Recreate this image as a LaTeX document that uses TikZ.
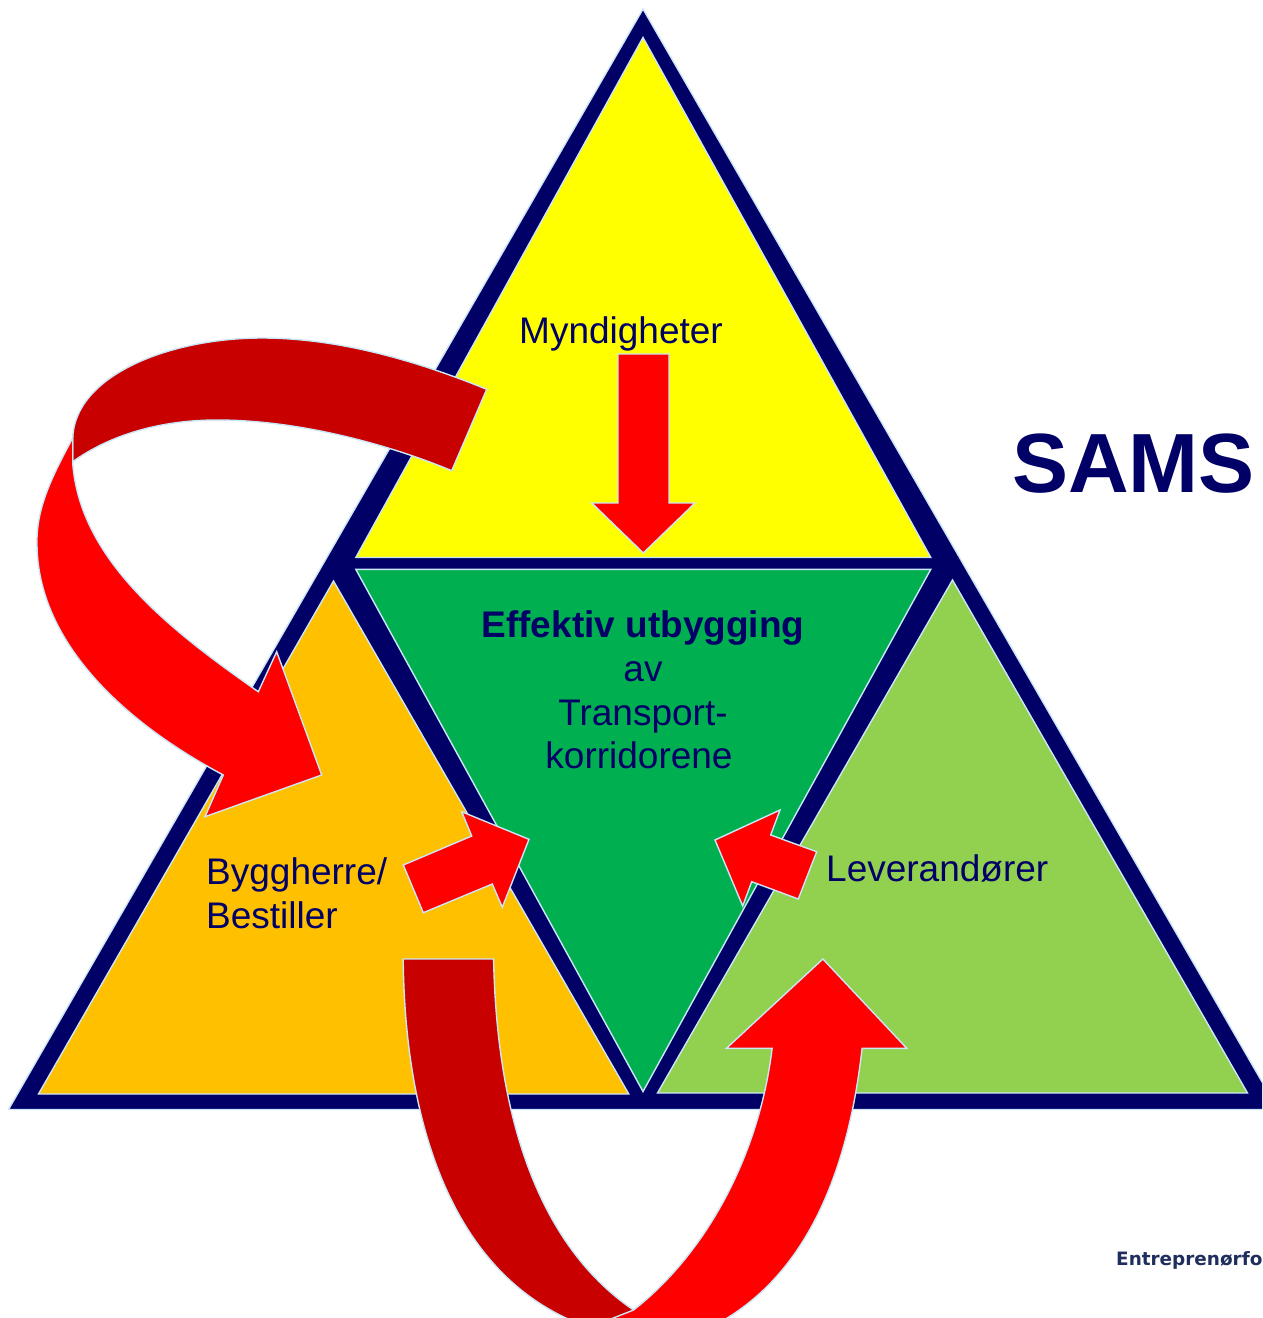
\documentclass[tikz,border=0pt]{standalone}
\usepackage{fontspec}
\setmainfont{Liberation Sans}
\newfontfamily\logofont{DejaVu Sans}
\definecolor{navy}{HTML}{000066}
\definecolor{outl}{HTML}{CBE6F7}
\definecolor{yel}{HTML}{FFFF00}
\definecolor{grn}{HTML}{00B050}
\definecolor{org}{HTML}{FFC000}
\definecolor{lgrn}{HTML}{92D050}
\definecolor{red1}{HTML}{FF0000}
\definecolor{red2}{HTML}{C80000}
\definecolor{logoc}{HTML}{1F2E5C}
\tikzset{
  shp/.style={draw=outl, line width=1.4pt, line join=miter},
  lbl/.style={text=navy, inner sep=0pt, font=\fontsize{37}{44.5}\selectfont},
}
\begin{document}
\begin{tikzpicture}[x=1pt,y=-1pt]
\useasboundingbox (0,0) rectangle (1262,1318);
\clip (0,0) rectangle (1262,1318);
% outer triangle
\fill[shp, fill=navy] (643,9) -- (8.5,1109.5) -- (1278,1109.5) -- cycle;
% inner triangles
\fill[shp, fill=yel] (643,37.5) -- (355.8,557.5) -- (930.8,557.5) -- cycle;
\fill[shp, fill=grn] (355.8,569.3) -- (930.8,569.3) -- (643,1091.5) -- cycle;
\fill[shp, fill=org] (333.5,581) -- (38.5,1094) -- (628.8,1094) -- cycle;
\fill[shp, fill=lgrn] (952.5,580) -- (657.5,1093) -- (1247.5,1093) -- cycle;
% down arrow
\fill[shp, fill=red1] (618,354) -- (669,354) -- (669,503) -- (695,503) -- (643.3,553) -- (591.7,503) -- (618,503) -- cycle;
% small arrows
\fill[shp, fill=red1] (423.3,912.7) -- (403.3,865) -- (471.7,836) -- (461.7,811.7) -- (529,839.3) -- (502.3,907.3) -- (492.3,884) -- cycle;
\fill[shp, fill=red1] (715,840) -- (780,810) -- (770.7,835) -- (816.7,851.7) -- (798.3,899) -- (751.7,881.7) -- (742.7,906) -- cycle;
% big left curved arrow: dark part
\fill[shp, fill=red2] (486.7,389.3) .. controls (420,362) and (340,338) .. (262,338)
  .. controls (170,338) and (75,375) .. (72.7,438)
  -- (72.7,461.7)
  .. controls (110,435) and (160,420) .. (217,420)
  .. controls (300,420) and (390,445) .. (451.7,470.7)
  -- cycle;
% big left curved arrow: bright part
\fill[shp, fill=red1] (72.7,438) .. controls (50,480) and (36,510) .. (37,545)
  .. controls (38,640) and (120,720) .. (223.3,775)
  -- (205,816.7) -- (321.7,775) -- (276.7,651.7) -- (258.3,691.7)
  .. controls (170,630) and (80,560) .. (72.7,463.3)
  -- cycle;
% bottom U arrow: dark part
\fill[shp, fill=red2] (403.2,959) .. controls (405,1130) and (455,1272) .. (575,1322)
  -- (640,1335) -- (633.6,1310)
  .. controls (545,1250) and (497,1130) .. (493.6,959)
  -- cycle;
% bottom U arrow: bright part
\fill[shp, fill=red1] (633.6,1310) .. controls (710,1250) and (760,1150) .. (772.1,1048.3)
  -- (726.4,1048.3) -- (822.9,959) -- (906.8,1048.3) -- (862.1,1048.3)
  .. controls (845,1200) and (790,1290) .. (705,1330)
  -- (570,1335) -- cycle;
% texts
\node[lbl, anchor=base] (myn) at (621,343) {Myndigheter};
\node[lbl, anchor=base] (c1) at (643,637) {\bfseries Effektiv utbygging};
\node[lbl, anchor=base] (c2) at (643,681) {av};
\node[lbl, anchor=base] (c3) at (643,725) {Transport-};
\node[lbl, anchor=base] (c4) at (639,768) {korridorene};
\node[lbl, anchor=base west] (byg) at (206,884) {Byggherre/};
\node[lbl, anchor=base west] (best) at (206,928) {Bestiller};
\node[lbl, anchor=base west] (lev) at (826,881) {Leverandører};
\node[text=navy, inner sep=0pt, anchor=base west, font=\fontsize{84}{90}\selectfont\bfseries] (sams) at (1012,492) {SAMS};
\node[text=logoc, inner sep=0pt, anchor=base west, font=\logofont\fontsize{18.4}{20}\selectfont\bfseries] (logo) at (1116,1265) {Entreprenørfor};
\end{tikzpicture}
\end{document}
